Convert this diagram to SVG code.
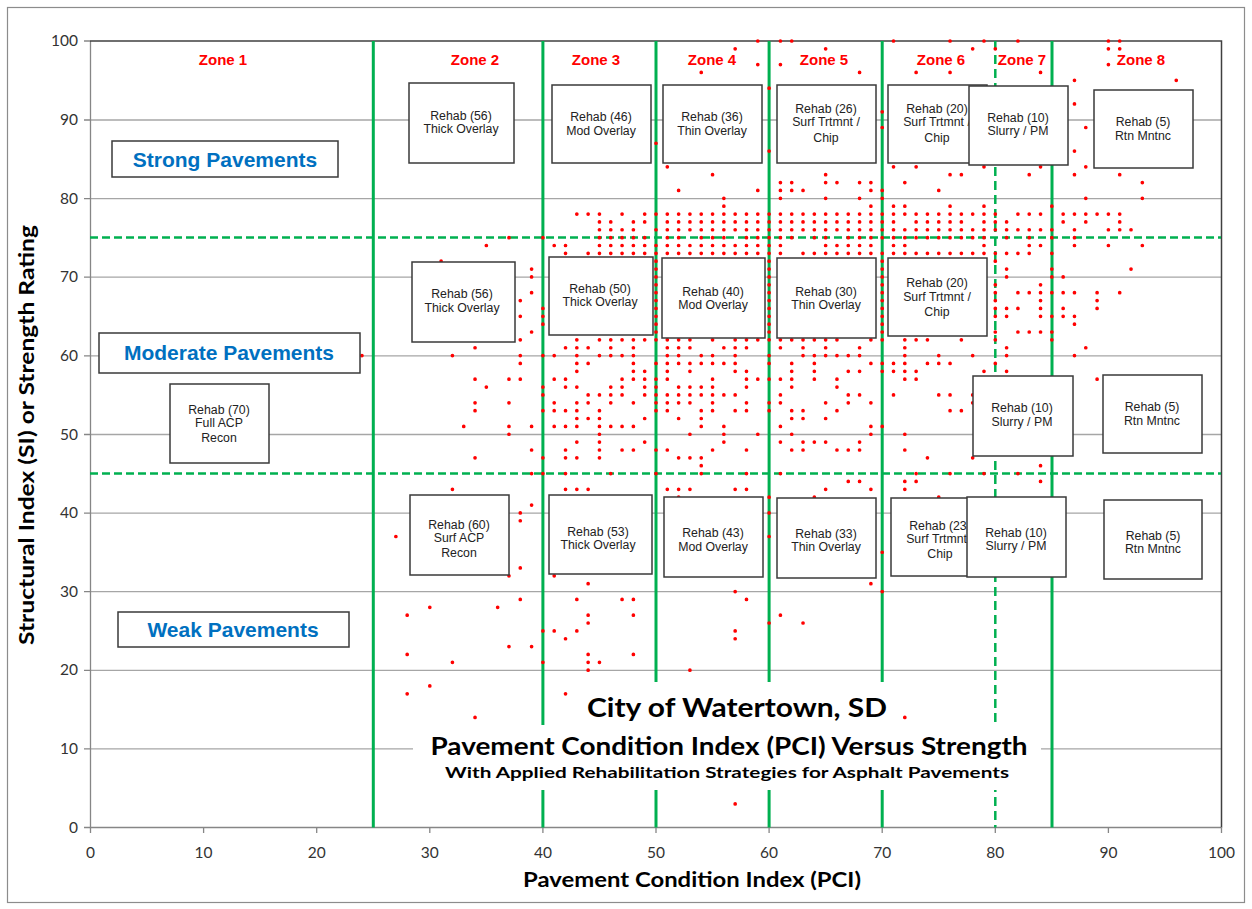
<svg xmlns="http://www.w3.org/2000/svg" width="1252" height="909" viewBox="0 0 1252 909">
<style>
.grid{stroke:#a6a6a6;stroke-width:1.3;fill:none}
.gl{stroke:#00b050;stroke-width:3;fill:none}
.gdh{stroke:#00b050;stroke-width:2.5;stroke-dasharray:8 4;fill:none}
.gdv{stroke:#00b050;stroke-width:2.5;stroke-dasharray:9 5;fill:none}
.box{fill:#fff;stroke:#3a3a3a;stroke-width:1.5}
.bt{font-family:"Liberation Sans",Arial,sans-serif;font-size:12.3px;fill:#222;text-anchor:middle}
.zone{font-family:"Liberation Sans",Arial,sans-serif;font-size:15px;font-weight:bold;fill:#ff0000;text-anchor:middle}
.cat{font-family:"Liberation Sans",Arial,sans-serif;font-size:21px;font-weight:bold;fill:#0070c0;text-anchor:middle}
.yt{font-family:Lato,"Liberation Sans",sans-serif;font-size:15.5px;fill:#333;text-anchor:end}
.xt{font-family:Lato,"Liberation Sans",sans-serif;font-size:15.5px;fill:#333;text-anchor:middle}
.ttl{font-family:Lato,"Liberation Sans",sans-serif;font-weight:bold;fill:#000;text-anchor:middle}
</style>
<rect x="7.5" y="7.5" width="1237" height="895" fill="#fff" stroke="#8c8c8c" stroke-width="1.2"/>
<g id="gridlines">
<path class="grid" d="M90 120H1221M90 198.6H1221M90 277.2H1221M90 355.8H1221M90 434.5H1221M90 513.1H1221M90 591.7H1221M90 670.3H1221M90 748.9H1221"/>
<path d="M90.5 41V827.5H1221" stroke="#868686" stroke-width="1.3" fill="none"/>
<path d="M90 41H1221.5V827.5" stroke="#404040" stroke-width="1.5" fill="none"/>
<path d="M84 41H90M84 120H90M84 198.6H90M84 277.2H90M84 355.8H90M84 434.5H90M84 513.1H90M84 591.7H90M84 670.3H90M84 748.9H90M84 827.5H90" stroke="#868686" stroke-width="1.3"/>
<path d="M90.5 827V833M203.6 827V833M316.7 827V833M429.8 827V833M542.9 827V833M656 827V833M769.1 827V833M882.2 827V833M995.3 827V833M1108.4 827V833M1221.5 827V833" stroke="#868686" stroke-width="1.3"/>
</g>
<g id="tick-labels">
<text class="yt" x="78" y="46">100</text>
<text class="yt" x="78" y="125">90</text>
<text class="yt" x="78" y="204">80</text>
<text class="yt" x="78" y="282">70</text>
<text class="yt" x="78" y="361">60</text>
<text class="yt" x="78" y="440">50</text>
<text class="yt" x="78" y="518">40</text>
<text class="yt" x="78" y="597">30</text>
<text class="yt" x="78" y="675">20</text>
<text class="yt" x="78" y="754">10</text>
<text class="yt" x="78" y="833">0</text>
<text class="xt" x="90.5" y="858">0</text>
<text class="xt" x="203.6" y="858">10</text>
<text class="xt" x="316.7" y="858">20</text>
<text class="xt" x="429.8" y="858">30</text>
<text class="xt" x="542.9" y="858">40</text>
<text class="xt" x="656" y="858">50</text>
<text class="xt" x="769.1" y="858">60</text>
<text class="xt" x="882.2" y="858">70</text>
<text class="xt" x="995.3" y="858">80</text>
<text class="xt" x="1108.4" y="858">90</text>
<text class="xt" x="1221.5" y="858">100</text>
</g>
<g id="axis-titles">
<text class="ttl" x="692" y="887" font-size="20" textLength="338" lengthAdjust="spacingAndGlyphs">Pavement Condition Index (PCI)</text>
<text class="ttl" transform="translate(34 435) rotate(-90)" font-size="20" textLength="420" lengthAdjust="spacingAndGlyphs">Structural Index (SI) or Strength Rating</text>
</g>
<g id="zone-lines">
<path class="gl" d="M373.3 41V827.5M542.9 41V827.5M656 41V827.5M769.1 41V827.5M882.2 41V827.5M1052 41V827.5"/>
<path class="gdv" d="M995.3 41V827.5"/>
<path class="gdh" d="M90 237.6H1221M90 473.6H1221"/>
</g>
<g id="data-points">
<path fill="none" stroke="#ff0000" stroke-width="3.7" stroke-linecap="round" vector-effect="non-scaling-stroke" transform="translate(90.5 827.5) scale(11.31 -7.865)" d="M59 100h0M61 100h0M62 100h0M71 100h0M76 100h0M79 100h0M82 100h0M90 100h0M91 100h0
M57 99h0M65 99h0M78 99h0M80 99h0M90 99h0M91 99h0
M59 97h0M61 97h0M90 97h0
M54 96h0M68 96h0M73 96h0M76 96h0M84 96h0
M87 95h0M96 95h0M60 94h0M87 92h0M70 91h0M70 89h0M88 89h0M50 87h0M60 86h0M87 86h0
M51 84h0M71 84h0M73 84h0M79 84h0M84 84h0M88 84h0
M55 83h0M65 83h0M76 83h0M77 83h0M83 83h0M87 83h0M91 83h0
M61 82h0M62 82h0M65 82h0M66 82h0M68 82h0M69 82h0M72 82h0M93 82h0
M52 81h0M59 81h0M61 81h0M62 81h0M63 81h0M69 81h0M70 81h0M75 81h0
M56 80h0M61 80h0M65 80h0M68 80h0M70 80h0M88 80h0M93 80h0
M56 79h0M69 79h0M71 79h0M72 79h0M76 79h0M79 79h0M85 79h0
M43 78h0M44 78h0M45 78h0M47 78h0M49 78h0M50 78h0M51 78h0M52 78h0M53 78h0M54 78h0M55 78h0M56 78h0M57 78h0M58 78h0M59 78h0M60 78h0M61 78h0M62 78h0M63 78h0M64 78h0M65 78h0M66 78h0M67 78h0M68 78h0M69 78h0M70 78h0M71 78h0M72 78h0M73 78h0M74 78h0M75 78h0M76 78h0M77 78h0M78 78h0M79 78h0M80 78h0M82 78h0M83 78h0M84 78h0M86 78h0M87 78h0M88 78h0M89 78h0M90 78h0M91 78h0
M45 77h0M46 77h0M48 77h0M49 77h0M51 77h0M52 77h0M53 77h0M54 77h0M55 77h0M56 77h0M57 77h0M58 77h0M59 77h0M60 77h0M61 77h0M62 77h0M63 77h0M64 77h0M65 77h0M66 77h0M67 77h0M68 77h0M69 77h0M70 77h0M71 77h0M73 77h0M74 77h0M75 77h0M76 77h0M77 77h0M79 77h0M80 77h0M81 77h0M86 77h0M88 77h0M91 77h0
M45 76h0M46 76h0M47 76h0M48 76h0M50 76h0M51 76h0M52 76h0M53 76h0M54 76h0M55 76h0M56 76h0M57 76h0M58 76h0M59 76h0M60 76h0M61 76h0M62 76h0M63 76h0M64 76h0M65 76h0M66 76h0M67 76h0M68 76h0M69 76h0M70 76h0M71 76h0M72 76h0M73 76h0M74 76h0M75 76h0M76 76h0M77 76h0M78 76h0M79 76h0M80 76h0M81 76h0M82 76h0M83 76h0M84 76h0M85 76h0M87 76h0M90 76h0M91 76h0M92 76h0
M37 75h0M40 75h0M45 75h0M46 75h0M47 75h0M48 75h0M49 75h0M51 75h0M52 75h0M54 75h0M55 75h0M56 75h0M58 75h0M59 75h0M60 75h0M61 75h0M62 75h0M64 75h0M65 75h0M67 75h0M68 75h0M69 75h0M70 75h0M71 75h0M72 75h0M73 75h0M74 75h0M75 75h0M76 75h0M77 75h0M78 75h0M79 75h0M81 75h0M83 75h0M85 75h0M87 75h0
M35 74h0M41 74h0M42 74h0M45 74h0M46 74h0M47 74h0M48 74h0M49 74h0M50 74h0M51 74h0M52 74h0M53 74h0M54 74h0M55 74h0M56 74h0M57 74h0M58 74h0M59 74h0M60 74h0M61 74h0M65 74h0M66 74h0M67 74h0M68 74h0M69 74h0M71 74h0M72 74h0M79 74h0M83 74h0M84 74h0M87 74h0M90 74h0M93 74h0
M42 73h0M44 73h0M45 73h0M46 73h0M47 73h0M48 73h0M49 73h0M50 73h0M51 73h0M52 73h0M53 73h0M54 73h0M55 73h0M56 73h0M57 73h0M58 73h0M59 73h0M60 73h0M61 73h0M63 73h0M64 73h0M65 73h0M66 73h0M67 73h0M68 73h0M69 73h0M70 73h0M71 73h0M72 73h0M73 73h0M74 73h0M75 73h0M76 73h0M77 73h0M78 73h0M79 73h0M80 73h0M81 73h0M82 73h0M83 73h0M85 73h0
M31 72h0M50 72h0M60 72h0M70 72h0M80 72h0
M39 71h0M50 71h0M60 71h0M70 71h0M81 71h0M85 71h0M92 71h0
M39 70h0M50 70h0M60 70h0M70 70h0M81 70h0M85 70h0M86 70h0
M50 69h0M60 69h0M70 69h0M80 69h0M84 69h0
M39 68h0M50 68h0M60 68h0M70 68h0M80 68h0M82 68h0M83 68h0M84 68h0M85 68h0M86 68h0M87 68h0M89 68h0M91 68h0
M38 67h0M50 67h0M60 67h0M70 67h0M80 67h0M84 67h0M89 67h0
M40 66h0M50 66h0M60 66h0M70 66h0M80 66h0M81 66h0M82 66h0M84 66h0M86 66h0M89 66h0
M38 65h0M40 65h0M50 65h0M60 65h0M70 65h0M80 65h0M81 65h0M84 65h0M85 65h0M86 65h0M87 65h0
M40 64h0M50 64h0M60 64h0M70 64h0M87 64h0
M39 63h0M50 63h0M60 63h0M70 63h0M80 63h0M82 63h0M83 63h0M84 63h0M85 63h0
M38 62h0M43 62h0M45 62h0M46 62h0M47 62h0M48 62h0M49 62h0M50 62h0M51 62h0M52 62h0M53 62h0M55 62h0M57 62h0M58 62h0M59 62h0M60 62h0M61 62h0M62 62h0M63 62h0M64 62h0M65 62h0M66 62h0M69 62h0M70 62h0M72 62h0M73 62h0M74 62h0M77 62h0M80 62h0M85 62h0
M34 61h0M42 61h0M43 61h0M44 61h0M46 61h0M48 61h0M51 61h0M52 61h0M53 61h0M56 61h0M57 61h0M58 61h0M61 61h0M63 61h0M65 61h0M68 61h0M72 61h0M81 61h0M88 61h0
M24 60h0M32 60h0M38 60h0M40 60h0M41 60h0M43 60h0M45 60h0M46 60h0M47 60h0M48 60h0M51 60h0M52 60h0M54 60h0M55 60h0M57 60h0M60 60h0M63 60h0M64 60h0M65 60h0M66 60h0M67 60h0M68 60h0M72 60h0M75 60h0M78 60h0M81 60h0M87 60h0
M38 59h0M43 59h0M44 59h0M48 59h0M50 59h0M51 59h0M52 59h0M53 59h0M54 59h0M55 59h0M56 59h0M57 59h0M60 59h0M62 59h0M64 59h0M69 59h0M70 59h0M71 59h0M72 59h0M74 59h0M75 59h0M76 59h0M80 59h0
M43 58h0M48 58h0M49 58h0M51 58h0M53 58h0M57 58h0M58 58h0M62 58h0M64 58h0M67 58h0M68 58h0M70 58h0M71 58h0M72 58h0M73 58h0M79 58h0M81 58h0
M34 57h0M37 57h0M38 57h0M41 57h0M42 57h0M47 57h0M48 57h0M49 57h0M50 57h0M51 57h0M55 57h0M58 57h0M59 57h0M60 57h0M61 57h0M62 57h0M64 57h0M66 57h0M72 57h0M73 57h0M89 57h0
M35 56h0M40 56h0M42 56h0M43 56h0M46 56h0M47 56h0M49 56h0M50 56h0M52 56h0M53 56h0M54 56h0M55 56h0M58 56h0M62 56h0M66 56h0
M40 55h0M44 55h0M45 55h0M46 55h0M47 55h0M49 55h0M50 55h0M51 55h0M52 55h0M53 55h0M54 55h0M55 55h0M56 55h0M57 55h0M61 55h0M67 55h0M68 55h0M71 55h0M75 55h0M76 55h0M78 55h0
M34 54h0M37 54h0M41 54h0M43 54h0M44 54h0M46 54h0M48 54h0M50 54h0M51 54h0M52 54h0M53 54h0M55 54h0M58 54h0M60 54h0M61 54h0M65 54h0M67 54h0M69 54h0M78 54h0
M34 53h0M40 53h0M41 53h0M42 53h0M43 53h0M45 53h0M50 53h0M51 53h0M54 53h0M55 53h0M57 53h0M58 53h0M60 53h0M62 53h0M63 53h0M66 53h0M76 53h0M77 53h0
M43 52h0M44 52h0M45 52h0M49 52h0M52 52h0M54 52h0M62 52h0M63 52h0M65 52h0
M33 51h0M37 51h0M39 51h0M41 51h0M42 51h0M43 51h0M45 51h0M46 51h0M47 51h0M48 51h0M54 51h0M56 51h0M61 51h0M69 51h0M70 51h0
M37 50h0M45 50h0M53 50h0M56 50h0M59 50h0M62 50h0M69 50h0M72 50h0
M43 49h0M45 49h0M49 49h0M56 49h0M61 49h0M63 49h0M64 49h0M65 49h0M68 49h0
M39 48h0M42 48h0M45 48h0M47 48h0M48 48h0M50 48h0M51 48h0M55 48h0M58 48h0M62 48h0M63 48h0M66 48h0M67 48h0M68 48h0M72 48h0
M34 47h0M40 47h0M42 47h0M43 47h0M45 47h0M52 47h0M53 47h0M54 47h0M74 47h0M78 47h0
M54 46h0M84 46h0
M39 45h0M40 45h0M42 45h0M46 45h0M50 45h0M54 45h0M58 45h0M61 45h0M73 45h0M76 45h0M79 45h0M82 45h0
M67 44h0M68 44h0M72 44h0M73 44h0M84 44h0
M32 43h0M42 43h0M43 43h0M44 43h0M51 43h0M52 43h0M53 43h0M57 43h0M58 43h0M65 43h0M69 43h0M72 43h0
M52 42h0M60 42h0M64 42h0M75 42h0M39 41h0M38 40h0M60 40h0M38 39h0M27 37h0M60 37h0M70 35h0
M38 33h0M37 32h0M41 32h0M44 31h0M69 31h0M57 30h0M70 30h0
M38 29h0M43 29h0M47 29h0M48 29h0M58 29h0M30 28h0M36 28h0
M28 27h0M44 27h0M48 27h0M61 27h0M44 26h0M60 26h0M63 26h0
M40 25h0M41 25h0M43 25h0M57 25h0M42 24h0M57 24h0M37 23h0M39 23h0
M28 22h0M44 22h0M48 22h0M32 21h0M40 21h0M44 21h0M45 21h0M44 20h0M53 20h0
M30 18h0M28 17h0M42 17h0M34 14h0M72 14h0M57 3h0"/>
</g>
<g id="title-area">
<rect x="413" y="725" width="628" height="65" fill="#fff"/>
<rect x="575" y="682" width="320" height="43" fill="#fff"/>
<text class="ttl" x="737" y="717" font-size="27" textLength="300" lengthAdjust="spacingAndGlyphs">City of Watertown, SD</text>
<text class="ttl" x="729" y="755" font-size="25" textLength="597" lengthAdjust="spacingAndGlyphs">Pavement Condition Index (PCI) Versus Strength</text>
<text class="ttl" x="727" y="778" font-size="16" textLength="564" lengthAdjust="spacingAndGlyphs">With Applied Rehabilitation Strategies for Asphalt Pavements</text>
</g>
<g id="zone-labels">
<text class="zone" x="223" y="65">Zone 1</text>
<text class="zone" x="475" y="65">Zone 2</text>
<text class="zone" x="596" y="65">Zone 3</text>
<text class="zone" x="712" y="65">Zone 4</text>
<text class="zone" x="824" y="65">Zone 5</text>
<text class="zone" x="941" y="65">Zone 6</text>
<text class="zone" x="1022" y="65">Zone 7</text>
<text class="zone" x="1141" y="65">Zone 8</text>
</g>
<g id="strong-pavements"><rect class="box" x="112" y="141" width="226" height="36"/><text class="cat" x="225" y="167">Strong Pavements</text></g>
<g id="moderate-pavements"><rect class="box" x="99" y="333" width="261" height="40"/><text class="cat" x="229" y="360">Moderate Pavements</text></g>
<g id="weak-pavements"><rect class="box" x="118" y="612" width="231" height="35"/><text class="cat" x="233" y="637">Weak Pavements</text></g>
<g id="z1-full-acp"><rect class="box" x="170" y="384" width="99" height="79"/><text class="bt" x="219" y="414">Rehab (70)</text><text class="bt" x="219" y="427">Full ACP</text><text class="bt" x="219" y="442">Recon</text></g>
<g id="z2-top"><rect class="box" x="409" y="83" width="105" height="80"/><text class="bt" x="461" y="120">Rehab (56)</text><text class="bt" x="461" y="133">Thick Overlay</text></g>
<g id="z3-top"><rect class="box" x="552" y="85" width="99" height="78"/><text class="bt" x="601" y="121">Rehab (46)</text><text class="bt" x="601" y="135">Mod Overlay</text></g>
<g id="z4-top"><rect class="box" x="663" y="85" width="99" height="78"/><text class="bt" x="712" y="121">Rehab (36)</text><text class="bt" x="712" y="135">Thin Overlay</text></g>
<g id="z5-top"><rect class="box" x="777" y="85" width="99" height="78"/><text class="bt" x="826" y="113">Rehab (26)</text><text class="bt" x="826" y="126">Surf Trtmnt /</text><text class="bt" x="826" y="142">Chip</text></g>
<g id="z6-top"><rect class="box" x="888" y="85" width="99" height="78"/><text class="bt" x="937" y="113">Rehab (20)</text><text class="bt" x="937" y="126">Surf Trtmnt /</text><text class="bt" x="937" y="142">Chip</text></g>
<g id="z7-top"><rect class="box" x="969" y="86" width="99" height="79"/><text class="bt" x="1018" y="122">Rehab (10)</text><text class="bt" x="1018" y="135">Slurry / PM</text></g>
<g id="z8-top"><rect class="box" x="1094" y="90" width="99" height="78"/><text class="bt" x="1143" y="126">Rehab (5)</text><text class="bt" x="1143" y="140">Rtn Mntnc</text></g>
<g id="z2-mid"><rect class="box" x="412" y="262" width="103" height="80"/><text class="bt" x="462" y="298">Rehab (56)</text><text class="bt" x="462" y="312">Thick Overlay</text></g>
<g id="z3-mid"><rect class="box" x="549" y="257" width="104" height="78"/><text class="bt" x="600" y="293">Rehab (50)</text><text class="bt" x="600" y="306">Thick Overlay</text></g>
<g id="z4-mid"><rect class="box" x="662" y="258" width="103" height="80"/><text class="bt" x="713" y="296">Rehab (40)</text><text class="bt" x="713" y="309">Mod Overlay</text></g>
<g id="z5-mid"><rect class="box" x="777" y="258" width="99" height="80"/><text class="bt" x="826" y="296">Rehab (30)</text><text class="bt" x="826" y="309">Thin Overlay</text></g>
<g id="z6-mid"><rect class="box" x="888" y="258" width="99" height="78"/><text class="bt" x="937" y="287">Rehab (20)</text><text class="bt" x="937" y="301">Surf Trtmnt /</text><text class="bt" x="937" y="316">Chip</text></g>
<g id="z7-mid"><rect class="box" x="973" y="376" width="100" height="80"/><text class="bt" x="1022" y="412">Rehab (10)</text><text class="bt" x="1022" y="426">Slurry / PM</text></g>
<g id="z8-mid"><rect class="box" x="1103" y="375" width="99" height="78"/><text class="bt" x="1152" y="411">Rehab (5)</text><text class="bt" x="1152" y="425">Rtn Mntnc</text></g>
<g id="z2-bot"><rect class="box" x="410" y="495" width="99" height="80"/><text class="bt" x="459" y="529">Rehab (60)</text><text class="bt" x="459" y="542">Surf ACP</text><text class="bt" x="459" y="557">Recon</text></g>
<g id="z3-bot"><rect class="box" x="549" y="495" width="103" height="79"/><text class="bt" x="598" y="536">Rehab (53)</text><text class="bt" x="598" y="549">Thick Overlay</text></g>
<g id="z4-bot"><rect class="box" x="664" y="497" width="99" height="80"/><text class="bt" x="713" y="537">Rehab (43)</text><text class="bt" x="713" y="551">Mod Overlay</text></g>
<g id="z5-bot"><rect class="box" x="777" y="498" width="99" height="80"/><text class="bt" x="826" y="538">Rehab (33)</text><text class="bt" x="826" y="551">Thin Overlay</text></g>
<g id="z6-bot"><rect class="box" x="891" y="498" width="99" height="78"/><text class="bt" x="940" y="530">Rehab (23)</text><text class="bt" x="940" y="543">Surf Trtmnt /</text><text class="bt" x="940" y="558">Chip</text></g>
<g id="z7-bot"><rect class="box" x="967" y="497" width="99" height="80"/><text class="bt" x="1016" y="537">Rehab (10)</text><text class="bt" x="1016" y="550">Slurry / PM</text></g>
<g id="z8-bot"><rect class="box" x="1104" y="500" width="98" height="79"/><text class="bt" x="1153" y="540">Rehab (5)</text><text class="bt" x="1153" y="553">Rtn Mntnc</text></g>
</svg>
